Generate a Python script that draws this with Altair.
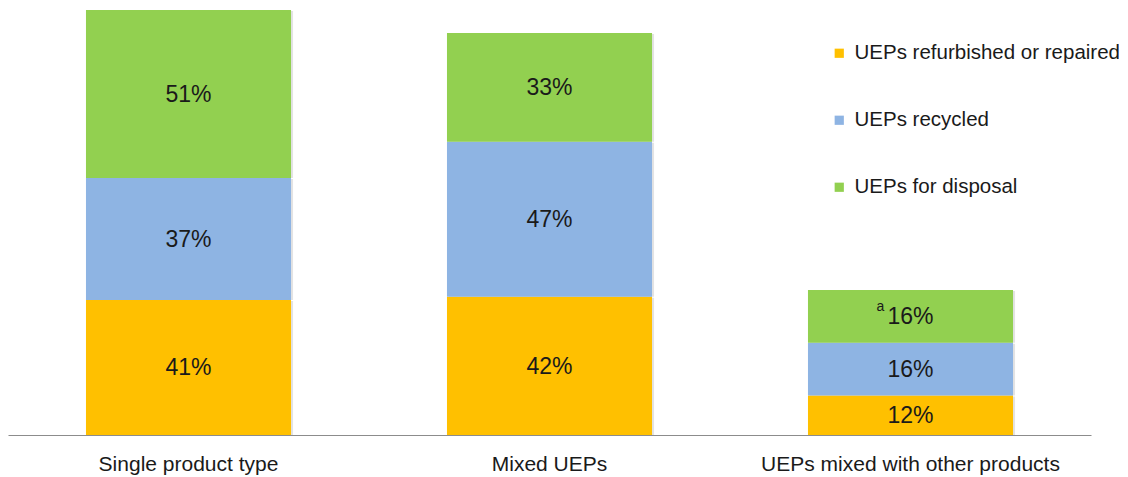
import altair as alt
import pandas as pd

categories = ["Single product type", "Mixed UEPs", "UEPs mixed with other products"]
series = ["UEPs refurbished or repaired", "UEPs recycled", "UEPs for disposal"]
refurbished = [41, 42, 12]
recycled = [37, 47, 16]
disposal = [51, 33, 16]
footnotes = {("UEPs mixed with other products", "UEPs for disposal"): "a"}
colors = ["#FFC000", "#8EB4E3", "#92D050"]

rows = []
for i, c in enumerate(categories):
    for j, (s, vals) in enumerate(zip(series, [refurbished, recycled, disposal])):
        rows.append({"category": c, "series": s, "value": vals[i], "order": j,
                     "label": f"{vals[i]}%", "note": footnotes.get((c, s), "")})
df = pd.DataFrame(rows)

FONT = "Liberation Sans"
TXT = "#1a1a1a"

x = alt.X("category:N", sort=categories, title=None,
          scale=alt.Scale(paddingInner=0.432, paddingOuter=0.216),
          axis=alt.Axis(labelAngle=0, labelFontSize=21, labelColor=TXT, labelFont=FONT,
                        ticks=False, domainColor="#8c8c8c", domainWidth=1.2, labelPadding=18,
                        grid=False, labelLimit=500))

base = alt.Chart(df).transform_stack(
    stack="value", groupby=["category"], as_=["y0", "y1"], sort=[alt.SortField("order")]
).transform_calculate(mid="(datum.y0 + datum.y1) / 2")

yscale = alt.Scale(domain=[0, 129], nice=False)

shadow = base.mark_bar(color="#b0b0b0", opacity=0.35, xOffset=2, yOffset=1).encode(
    x=x,
    y=alt.Y("y1:Q", scale=yscale, axis=None),
    y2="y0:Q",
)

bars = base.mark_bar().encode(
    x=x,
    y=alt.Y("y1:Q", scale=yscale, axis=None),
    y2="y0:Q",
    color=alt.Color("series:N", sort=series,
                    scale=alt.Scale(domain=series, range=colors),
                    legend=alt.Legend(title=None, orient="none", legendX=821, legendY=33,
                                      symbolType="square", symbolSize=85, symbolStrokeWidth=0,
                                      labelFontSize=20.5, labelFont=FONT, labelColor=TXT,
                                      rowPadding=46, labelOffset=5, labelLimit=500)),
)

labels = base.mark_text(fontSize=23, font=FONT, color=TXT, dy=1).encode(
    x=alt.X("category:N", sort=categories),
    y=alt.Y("mid:Q", scale=yscale),
    text="label:N",
)

notes = base.mark_text(fontSize=14, font=FONT, color=TXT, dx=-30, dy=-9).encode(
    x=alt.X("category:N", sort=categories),
    y=alt.Y("mid:Q", scale=yscale),
    text="note:N",
)

chart = alt.layer(shadow, bars, labels, notes).properties(
    width=1083, height=425,
    autosize=alt.AutoSizeParams(type="none"),
    padding={"left": 0, "top": 2, "right": 28, "bottom": 40},
).configure(background="white").configure_view(stroke=None)

chart.save("out.html", embed_options={"renderer": "svg", "actions": False})
